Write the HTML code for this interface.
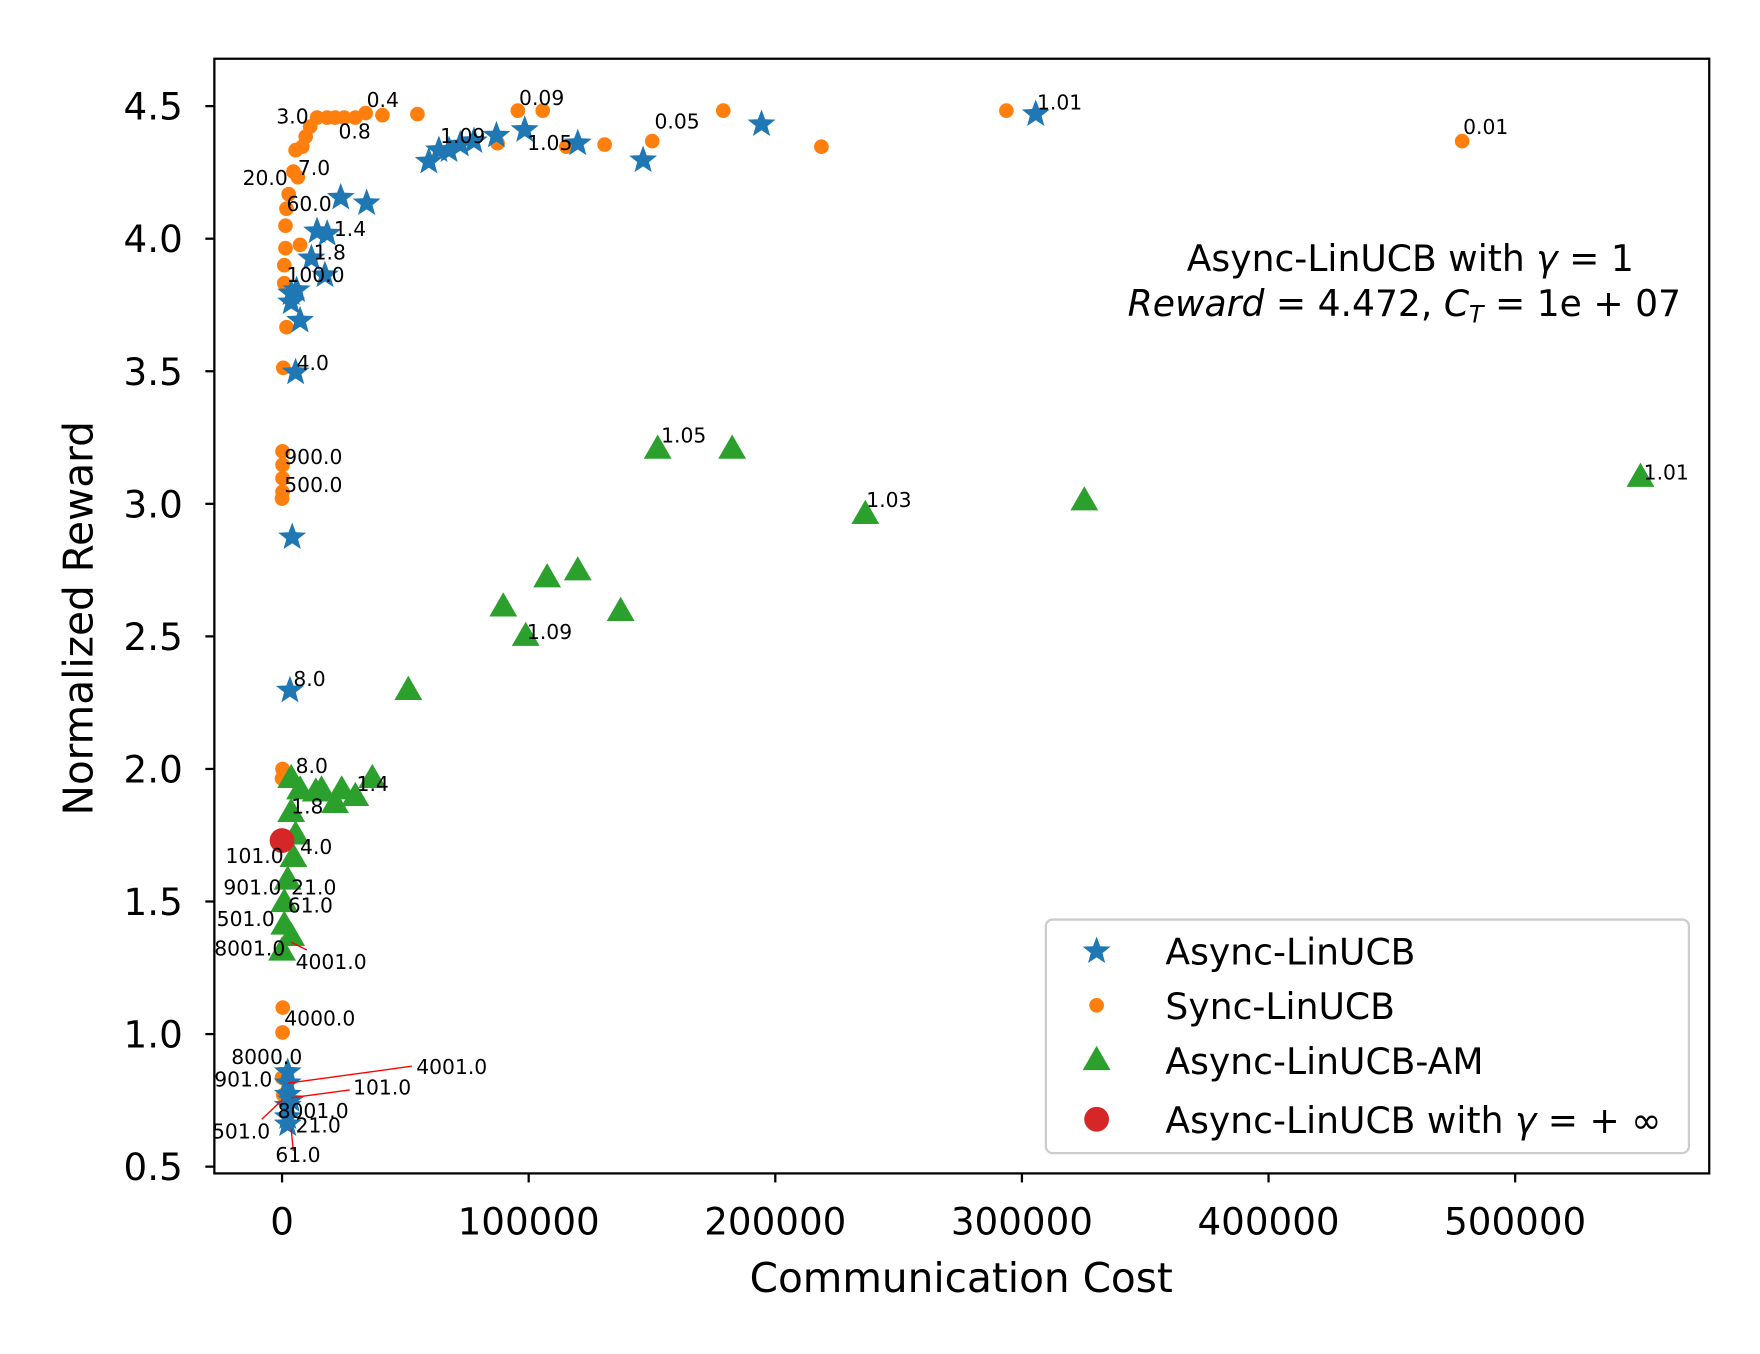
<!DOCTYPE html>
<html><head><meta charset="utf-8"><style>
html,body{margin:0;padding:0;background:#fff;}
svg{display:block;font-family:"DejaVu Sans","Liberation Sans",sans-serif;}
</style></head><body>
<svg id="chart" width="1760" height="1354" viewBox="0 0 1560 1200" xmlns="http://www.w3.org/2000/svg">
<rect x="0" y="0" width="1560" height="1200" fill="#fff"/>
<g id="plot"></g>
<rect x="190" y="52" width="1325" height="988" fill="none" stroke="#000" stroke-width="2"/>
<g id="ticks"></g>
<text x="852" y="1145" font-size="36" text-anchor="middle">Communication Cost</text>
<text transform="translate(82,548) rotate(-90)" font-size="36" text-anchor="middle">Normalized Reward</text>
<text x="1250" y="240" font-size="32" text-anchor="middle">Async-LinUCB with <tspan font-style="italic">γ</tspan> = 1</text>
<text x="1490" y="280" font-size="32" text-anchor="end"><tspan font-style="italic">Reward</tspan> = 4.472, <tspan font-style="italic">C</tspan><tspan font-size="21" font-style="italic" dy="6">T</tspan><tspan dy="-6"> = 1e + 07</tspan></text>
<g>
<rect x="927" y="815" width="570" height="207" rx="6" fill="#fff" stroke="#ccc" stroke-width="2"/>
<g><path id="lg0" fill="#1f77b4"/><text x="1033" y="855" font-size="32">Async-LinUCB</text></g>
<g><circle cx="972" cy="891" r="6.5" fill="#ff7f0e"/><text x="1033" y="903" font-size="32">Sync-LinUCB</text></g>
<g><path id="lg2" fill="#2ca02c"/><text x="1033" y="952" font-size="32">Async-LinUCB-AM</text></g>
<g><circle cx="972" cy="992" r="11" fill="#d62728"/><text x="1033" y="1004" font-size="32">Async-LinUCB with <tspan font-style="italic">γ</tspan> = + ∞</text></g>
</g>
</svg>
<script>
const xTicks=[0,100000,200000,300000,400000,500000];
const yTicks=[0.5,1.0,1.5,2.0,2.5,3.0,3.5,4.0,4.5];
const syncX=[8200,9600,11400,14200,18300,21500,25200,29700,33900,40700,54900,95600,105700,87400,115300,130800,150100,178900,218700,293700,478500,5500,4600,6400,2700,1800,1400,1400,7300,900,900,1800,500,200,200,200,200,0,200,0,300,200,0,500];
const syncY=[4.347,4.385,4.423,4.457,4.457,4.457,4.457,4.457,4.474,4.466,4.47,4.483,4.483,4.36,4.347,4.355,4.368,4.483,4.347,4.483,4.368,4.334,4.253,4.232,4.168,4.113,4.049,3.964,3.977,3.9,3.832,3.666,3.513,3.198,3.147,3.096,3.045,3.02,2.0,1.964,1.1,1.006,0.836,0.77];
const asyncX=[4100,3200,5500,7300,3700,3700,5900,11900,17400,14200,18300,23800,34300,59500,63600,67700,72300,77800,86900,98400,119900,146400,194400,305600,2300,2300,2300,3700,2300,2300,2300];
const asyncY=[2.874,2.296,3.496,3.691,3.76,3.794,3.806,3.926,3.862,4.028,4.019,4.155,4.134,4.291,4.334,4.334,4.355,4.368,4.389,4.41,4.36,4.296,4.432,4.47,0.857,0.815,0.772,0.751,0.73,0.687,0.66];
const amX=[152300,182500,236500,325300,550800,89700,107500,119900,137300,98800,51200,3700,7300,16000,21500,24200,29700,36600,13700,3700,5500,4600,2300,900,900,3700,0];
const amY=[3.206,3.206,2.96,3.011,3.1,2.611,2.721,2.747,2.594,2.5,2.296,1.964,1.921,1.921,1.87,1.921,1.896,1.964,1.913,1.836,1.751,1.666,1.581,1.496,1.411,1.368,1.313];
const infX=[0];
const infY=[1.73];
const labelText=["3.0","0.4","0.8","0.09","1.09","1.05","0.05","0.01","1.01","20.0","7.0","60.0","1.4","1.8","100.0","4.0","900.0","500.0","1.05","1.03","1.01","1.09","8.0","8.0","1.4","1.8","4.0","101.0","21.0","901.0","61.0","501.0","8001.0","4001.0","4000.0","8000.0","4001.0","901.0","101.0","8001.0","501.0","21.0","61.0"];
const labelX=[-2300,34300,22900,96100,64100,99400,151000,478900,306100,-16000,6400,1800,21000,12800,1800,5900,900,900,153700,236900,552100,99300,4600,5500,30200,3700,7300,-22900,3700,-23800,2300,-26500,-27500,5500,900,-20600,54400,-27500,28800,-1800,-28400,5500,-2700];
const labelY=[4.434,4.496,4.377,4.504,4.36,4.334,4.415,4.394,4.487,4.202,4.24,4.104,4.011,3.922,3.837,3.504,3.151,3.045,3.232,2.988,3.092,2.49,2.313,1.985,1.917,1.832,1.679,1.645,1.526,1.526,1.458,1.407,1.296,1.245,1.032,0.887,0.849,0.802,0.772,0.683,0.606,0.628,0.517];
const X0=250,XS=218.6/100000,Y0=1034,YS=235;
const sx=v=>X0+v*XS, sy=v=>Y0-(v-0.5)*YS;
const NS="http://www.w3.org/2000/svg";
const plot=document.getElementById('plot'), ticks=document.getElementById('ticks');
function mk(t,a,p){const e=document.createElementNS(NS,t);for(const k in a)e.setAttribute(k,a[k]);(p||plot).appendChild(e);return e;}
function star(cx,cy,R){let d='';for(let i=0;i<10;i++){const r=i%2?R*0.42:R;const a=-Math.PI/2+i*Math.PI/5;d+=(i?'L':'M')+(cx+r*Math.cos(a)).toFixed(1)+','+(cy+r*Math.sin(a)).toFixed(1);}return d+'Z';}
function tri(cx,cy,R){return `M${cx},${cy-R}L${cx+R*0.95},${cy+R*0.65}L${cx-R*0.95},${cy+R*0.65}Z`;}
document.getElementById('lg0').setAttribute('d',star(972,843,13));
document.getElementById('lg2').setAttribute('d',tri(972,940,13));
xTicks.forEach(v=>{
  const l=mk('line',{x1:sx(v),x2:sx(v),y1:1040,y2:1048,stroke:'#000','stroke-width':2},ticks);
  
  const t=mk('text',{x:sx(v),y:1094,'font-size':33,'text-anchor':'middle'},ticks);t.textContent=String(v);
  
});
yTicks.forEach(v=>{
  const l=mk('line',{x1:182,x2:190,y1:sy(v),y2:sy(v),stroke:'#000','stroke-width':2},ticks);
  
  const t=mk('text',{x:162,y:sy(v)+12,'font-size':33,'text-anchor':'end'},ticks);t.textContent=v.toFixed(1);
  
});
syncX.forEach((v,i)=>{const e=mk('circle',{cx:sx(v),cy:sy(syncY[i]),r:6.5,fill:'#ff7f0e'});
  });
asyncX.forEach((v,i)=>{const e=mk('path',{d:star(sx(v),sy(asyncY[i]),13),fill:'#1f77b4'});
  });
amX.forEach((v,i)=>{const e=mk('path',{d:tri(sx(v),sy(amY[i]),13),fill:'#2ca02c'});
  });
infX.forEach((v,i)=>{const e=mk('circle',{cx:sx(v),cy:sy(infY[i]),r:11,fill:'#d62728'});
  });
[[255,960,365,945],[258,973,310,966],[232,992,250,975],[258,835,272,842],[258,1000,260,1020]].forEach(s=>{
  const e=mk('line',{x1:s[0],y1:s[1],x2:s[2],y2:s[3],stroke:'red','stroke-width':1.2});
  });
labelText.forEach((s,i)=>{const t=mk('text',{x:sx(labelX[i]),y:sy(labelY[i]),'font-size':18});t.textContent=s;
  });
</script>
</body></html>
